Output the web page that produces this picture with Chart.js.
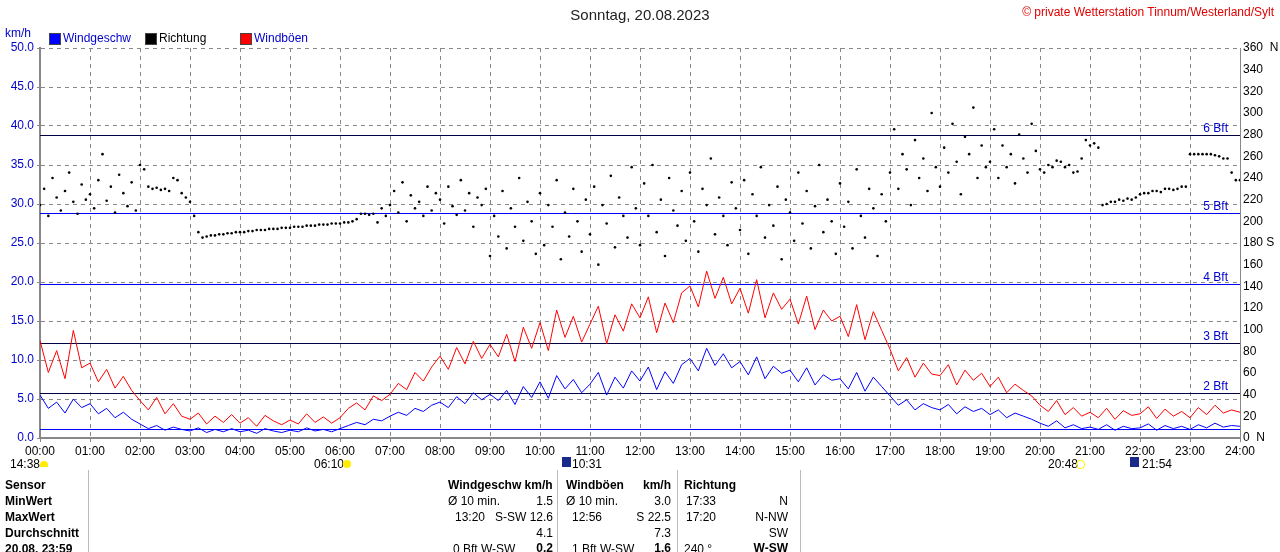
<!DOCTYPE html>
<html>
<head>
<meta charset="utf-8">
<script src="https://cdn.jsdelivr.net/npm/chart.js@4"></script>
<style>
  body { margin: 0; background: #fff; font-family: "Liberation Sans", Arial, sans-serif; font-size: 12px; }
  #wrap { position: relative; width: 1280px; height: 552px; overflow: hidden; }
  canvas { position: absolute; left: 0; top: 0; }
  .t { position: absolute; white-space: nowrap; color: #000; }
  .r { text-align: right; }
  .b { font-weight: bold; }
  .sq { position: absolute; width: 10px; height: 10px; border: 1px solid #444; }
  .vl { position: absolute; width: 1px; background: #bbb; top: 470px; height: 82px; }
</style>
</head>
<body>
<div id="wrap">
  <canvas id="c" width="1280" height="552"></canvas>

  <div class="t" style="left:0;width:1280px;top:6px;text-align:center;font-size:15px;color:#222">Sonntag, 20.08.2023</div>
  <div class="t" style="right:6px;top:5px;color:#e00000">© private Wetterstation Tinnum/Westerland/Sylt</div>
  <div class="t" style="left:5px;top:26px;color:#0000cc">km/h</div>
  <div class="sq" style="left:49px;top:33px;background:#0000ff"></div>
  <div class="t" style="left:63px;top:31px;color:#0000cc">Windgeschw</div>
  <div class="sq" style="left:145px;top:33px;background:#000"></div>
  <div class="t" style="left:159px;top:31px">Richtung</div>
  <div class="sq" style="left:240px;top:33px;background:#ff0000"></div>
  <div class="t" style="left:254px;top:31px;color:#0000cc">Windböen</div>

  <div class="t" style="left:10px;top:457px">14:38</div>
  <div class="t" style="left:40px;top:461px;width:8px;height:6px;background:#ffee00;border-radius:4px 4px 0 0"></div>
  <div class="t" style="left:314px;top:457px">06:10</div>
  <div class="t" style="left:343px;top:460px;width:8px;height:8px;background:#ffee00;border-radius:4px"></div>
  <div class="t" style="left:562px;top:457px;width:9px;height:10px;background:#1a2a8a"></div>
  <div class="t" style="left:572px;top:457px">10:31</div>
  <div class="t" style="left:1048px;top:457px">20:48</div>
  <div class="t" style="left:1076px;top:460px;width:7px;height:7px;border:1px solid #ffee00;border-radius:4px"></div>
  <div class="t" style="left:1130px;top:457px;width:9px;height:10px;background:#1a2a8a"></div>
  <div class="t" style="left:1142px;top:457px">21:54</div>

  <div class="vl" style="left:88px"></div>
  <div class="vl" style="left:557px"></div>
  <div class="vl" style="left:677px"></div>
  <div class="vl" style="left:800px"></div>

  <div id="table"></div>
</div>

<script>
// ── Data (10-minute steps for speed/gusts, 5-minute steps for direction) ──
const SPEED_STEP = 10;
const DIR_STEP = 5;

const windSpeed = [
  5.5,3.8,4.6,3.2,5.0,3.9, 4.4,3.1,3.8,2.6,3.3,2.4, 1.8,1.2,1.6,1.0,1.4,1.1,
  0.9,1.3,0.7,1.1,0.8,1.2, 0.8,1.0,0.6,1.2,0.9,0.7, 1.0,0.8,1.3,0.9,1.1,0.8,
  1.2,1.6,2.0,1.7,2.4,2.2, 2.8,3.3,2.9,3.8,3.4,4.2, 4.6,3.9,5.3,4.4,5.8,4.9,
  5.6,4.8,6.1,4.3,6.6,5.2, 7.2,5.1,8.0,6.3,7.5,5.8, 6.9,8.4,5.5,7.8,6.4,8.6,
  7.3,9.1,6.2,8.5,7.0,9.4, 10.2,8.6,11.5,9.3,10.8,9.0, 9.8,8.1,10.4,7.6,9.2,8.3,
  8.7,7.2,9.0,6.8,8.1,7.4, 7.6,6.3,8.4,6.0,7.8,6.6, 5.4,4.2,4.9,3.6,4.4,3.9,
  3.6,4.3,3.1,4.0,3.4,3.8, 3.0,3.6,2.6,3.2,2.8,2.4, 1.9,1.5,2.2,1.3,1.7,1.2,
  1.4,1.1,1.7,1.0,1.5,1.2, 1.3,1.8,1.0,1.6,1.2,1.5, 1.1,1.7,1.3,1.9,1.4,1.6, 1.5
];

const windGust = [
  12.5,8.4,11.2,7.6,13.8,9.0, 9.6,7.2,8.8,6.4,7.9,6.1, 4.8,3.6,5.2,3.1,4.4,2.8,
  2.4,3.2,1.8,2.8,2.0,3.0, 1.9,2.6,1.5,2.9,2.2,1.7, 2.3,1.8,3.1,2.0,2.7,1.9,
  2.6,3.8,4.5,3.6,5.4,4.8, 5.6,7.0,6.2,8.4,7.3,9.1, 10.5,8.8,11.6,9.5,12.4,10.2,
  12.0,10.4,13.3,9.8,14.2,11.5, 14.8,11.2,16.4,12.9,15.6,12.3, 14.6,16.9,12.1,15.8,13.7,17.2,
  15.4,18.1,13.5,17.3,14.8,18.6, 19.5,16.8,21.4,17.9,20.6,17.2, 19.2,16.0,20.3,15.4,18.6,16.5,
  17.8,14.6,18.2,13.9,16.4,15.0, 15.6,13.0,17.1,12.6,16.2,13.8, 11.4,8.6,10.3,7.8,9.6,8.2,
  8.0,9.4,6.8,8.7,7.4,8.3, 6.6,7.8,5.8,6.9,6.1,5.4, 4.2,3.4,4.8,3.0,3.9,2.8,
  3.3,2.6,3.8,2.4,3.5,2.9, 3.1,4.0,2.5,3.7,2.8,3.4, 2.6,3.9,3.0,4.2,3.2,3.6, 3.3
];

const windDir = [
  215,230,205,240,222,210,228,245,218,207,234,220,
  225,212,238,262,219,232,208,243,226,214,236,210,
  252,248,232,230,231,229,230,228,240,238,226,222,
  218,205,190,185,186,187,187,188,188,189,189,190,
  190,190,191,191,192,192,192,193,193,193,194,194,
  194,195,195,195,196,196,196,197,197,197,198,198,
  198,199,199,200,202,207,207,206,207,199,212,205,
  215,228,208,236,200,224,212,218,205,232,210,226,
  220,198,232,214,206,238,210,226,195,222,215,230,
  168,205,186,228,175,212,195,240,182,218,200,170,
  226,178,215,195,238,165,208,186,230,200,172,220,
  188,232,160,215,198,242,176,222,205,185,250,212,
  178,235,205,252,190,220,168,240,210,196,228,182,
  245,200,172,230,215,258,188,222,205,178,236,212,
  192,238,170,225,205,250,185,215,196,232,165,220,
  208,182,245,198,228,175,214,252,190,220,200,170,
  235,195,218,175,248,205,185,230,212,168,225,200,
  245,285,230,262,248,215,275,240,258,228,300,250,
  232,268,245,290,255,225,278,262,305,240,270,250,
  255,285,240,270,250,262,235,280,258,245,290,265,
  248,245,252,250,256,255,250,252,245,246,258,275,
  270,272,268,215,216,218,218,220,219,221,220,222,
  225,226,226,228,228,227,230,230,229,230,232,232,
  262,262,262,262,262,262,261,260,258,258,245,238, 238
];

// Beaufort thresholds in km/h
const bftLevels = [1.1, 5.8, 12.2, 19.8, 28.8, 38.9];
const bftLabels = ["", "2 Bft", "3 Bft", "4 Bft", "5 Bft", "6 Bft"];
const bftColors = ["#0000ff", "#000040", "#000040", "#0000ff", "#0000ff", "#000040"];

// ── Bottom summary table ──────────────────────────────────────────
const tableRows = [
  // [text, left, top, align-right width, bold]
  ["Sensor", 5, 478, 0, true], ["MinWert", 5, 494, 0, true], ["MaxWert", 5, 510, 0, true],
  ["Durchschnitt", 5, 526, 0, true], ["20.08. 23:59", 5, 542, 0, true],
  ["Windgeschw km/h", 448, 478, 0, true], ["Windböen", 566, 478, 0, true],
  ["km/h", 620, 478, 51, true], ["Richtung", 684, 478, 0, true],
  ["Ø 10 min.", 448, 494, 0, false], ["1.5", 500, 494, 53, false],
  ["Ø 10 min.", 566, 494, 0, false], ["3.0", 620, 494, 51, false],
  ["17:33", 686, 494, 0, false], ["N", 740, 494, 48, false],
  ["13:20", 455, 510, 0, false], ["S-SW 12.6", 480, 510, 73, false],
  ["12:56", 572, 510, 0, false], ["S 22.5", 620, 510, 51, false],
  ["17:20", 686, 510, 0, false], ["N-NW", 740, 510, 48, false],
  ["4.1", 500, 526, 53, false], ["7.3", 620, 526, 51, false], ["SW", 740, 526, 48, false],
  ["0 Bft W-SW", 453, 542, 0, false], ["0.2", 500, 541, 53, true],
  ["1 Bft W-SW", 572, 542, 0, false], ["1.6", 620, 541, 51, true],
  ["240 °", 684, 542, 0, false], ["W-SW", 730, 541, 58, true],
];
const tableEl = document.getElementById("table");
tableRows.forEach(([txt, left, top, w, bold]) => {
  const d = document.createElement("div");
  d.className = "t" + (w ? " r" : "") + (bold ? " b" : "");
  d.style.left = left + "px";
  d.style.top = top + "px";
  if (w) d.style.width = w + "px";
  d.textContent = txt;
  tableEl.appendChild(d);
});

// ── Chart ─────────────────────────────────────────────────────────
const toPoints = (arr, step) => arr.map((v, i) => ({ x: i * step, y: v }));

const pad2 = n => String(n).padStart(2, "0");

const bftPlugin = {
  id: "bft",
  beforeDatasetsDraw(chart) {
    const { ctx, chartArea, scales } = chart;
    ctx.save();
    bftLevels.forEach((v, i) => {
      const y = Math.round(scales.y.getPixelForValue(v)) + 0.5;
      ctx.strokeStyle = bftColors[i];
      ctx.lineWidth = 1;
      ctx.beginPath();
      ctx.moveTo(chartArea.left, y);
      ctx.lineTo(chartArea.right, y);
      ctx.stroke();
      if (bftLabels[i]) {
        ctx.fillStyle = "#0000cc";
        ctx.font = "12px 'Liberation Sans', Arial";
        ctx.textAlign = "right";
        ctx.textBaseline = "bottom";
        ctx.fillText(bftLabels[i], chartArea.right - 12, y - 1);
      }
    });
    ctx.restore();
  }
};

const font = { family: "'Liberation Sans', Arial, sans-serif", size: 12 };

new Chart(document.getElementById("c"), {
  type: "line",
  data: {
    datasets: [
      { label: "Richtung", data: toPoints(windDir, DIR_STEP), yAxisID: "y2", showLine: false,
        pointRadius: 1.3, pointBackgroundColor: "#000", pointBorderWidth: 0, order: 0 },
      { label: "Windgeschw", data: toPoints(windSpeed, SPEED_STEP), yAxisID: "y",
        borderColor: "#0000ff", borderWidth: 1, pointRadius: 0, tension: 0, order: 1 },
      { label: "Windböen", data: toPoints(windGust, SPEED_STEP), yAxisID: "y",
        borderColor: "#ff0000", borderWidth: 1, pointRadius: 0, tension: 0, order: 2 },
    ],
  },
  options: {
    responsive: false,
    animation: false,
    layout: { padding: { top: 48 } },
    plugins: { legend: { display: false }, tooltip: { enabled: false } },
    scales: {
      x: {
        type: "linear", min: 0, max: 1440,
        afterFit: s => { s.height = 114; },
        ticks: { stepSize: 60, color: "#000", font, padding: 2, maxRotation: 0,
          callback: v => pad2(v / 60) + ":00" },
        grid: { color: "#888", tickLength: 4, drawTicks: true },
        border: { color: "#888", width: 2, dash: [4, 4] },
      },
      y: {
        position: "left", min: 0, max: 50,
        afterFit: s => { s.width = 40; },
        ticks: { stepSize: 5, color: "#0000cc", font, padding: 3, callback: v => v.toFixed(1) },
        grid: { color: "#888", tickLength: 3 },
        border: { color: "#888", width: 2, dash: [4, 4] },
      },
      y2: {
        position: "right", min: 0, max: 360,
        afterFit: s => { s.width = 40; },
        ticks: { stepSize: 20, color: "#000", font, padding: 3,
          callback: v => v === 0 || v === 360 ? v + "  N" : v === 180 ? v + " S" : String(v) },
        grid: { display: false, drawTicks: false, tickLength: 0 },
        border: { color: "#888", width: 1 },
      },
    },
  },
  plugins: [bftPlugin],
});
</script>
</body>
</html>
